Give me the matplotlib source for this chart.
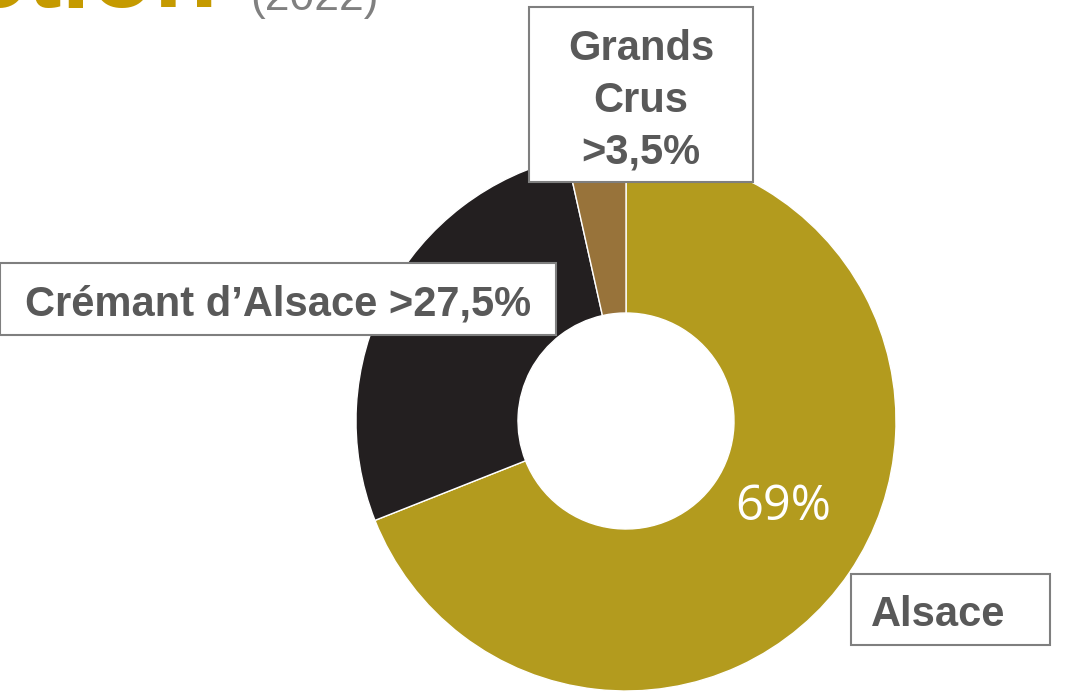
import matplotlib.pyplot as plt
from matplotlib.patches import Rectangle

# data
labels = ["Alsace", "Crémant d’Alsace", "Grands Crus"]
shares = [69, 27.5, 3.5]
colors = ["#B39B1E", "#231F20", "#98733A"]
box_texts = ["Alsace", "Crémant d’Alsace >27,5%", "Grands\nCrus\n>3,5%"]

W, H = 1077, 692
fig = plt.figure(figsize=(W / 100, H / 100), dpi=100)
ax = fig.add_axes([0, 0, 1, 1])

cx, cy, r = 626, H - 421, 270
ax.pie(shares, colors=colors, startangle=90, counterclock=False,
       radius=r, center=(cx, cy), frame=True,
       wedgeprops=dict(width=r - 108, edgecolor="white", linewidth=1))
ax.set_xlim(0, W)
ax.set_ylim(0, H)
ax.set_aspect("equal")
ax.axis("off")

ax.text(783, H - 507, f"{shares[0]:.0f}%", color="white", fontsize=35,
        family="Open Sans", ha="center", va="center")

# label boxes (x0, y0 top, x1, y1 bottom in pixels), text offsets
boxes = [(851, 574, 1050, 645), (0, 263, 556, 335), (529, 7, 753, 182)]
offsets = [(-12, -5), (0, -5), (0, -6)]
for (x0, y0, x1, y1), (dx, dy), txt in zip(boxes, offsets, box_texts):
    ax.add_patch(Rectangle((x0, H - y1), x1 - x0, y1 - y0, facecolor="white",
                           edgecolor="#7F7F7F", linewidth=1.5, zorder=5))
    ax.text((x0 + x1) / 2 + dx, H - (y0 + y1) / 2 + dy, txt, ha="center", va="center",
            fontsize=30, fontweight="bold", color="#595959",
            family="Liberation Sans", linespacing=1.38, zorder=6)

# clipped title at the top
ax.text(218, H - 7, "Production", ha="right", va="baseline", fontsize=75,
        fontweight="bold", color="#C59A00", family="Liberation Sans")
ax.text(250, H - 10, "(2022)", ha="left", va="baseline", fontsize=32,
        color="#808080", family="Liberation Sans")

fig.savefig("out.png", dpi=100)
